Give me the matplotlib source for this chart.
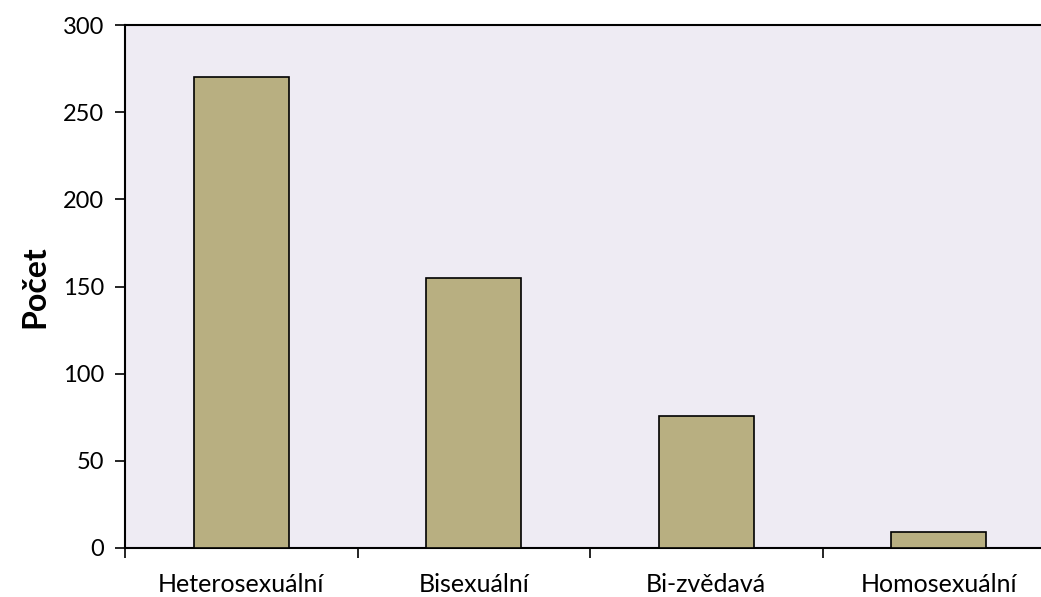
import matplotlib; matplotlib.use("Agg")
import matplotlib.pyplot as plt
import numpy as np

categories = ["Heterosexuální", "Bisexuální", "Bi-zvědavá", "Homosexuální"]
counts = [270, 155, 76, 9]
yticks = [0, 50, 100, 150, 200, 250, 300]

plt.rcParams["font.family"] = ["Lato", "DejaVu Sans"]

fig = plt.figure(figsize=(10.41, 5.97), dpi=100)
ax = fig.add_axes([0.1201, 0.0821, 0.8934, 0.876])
ax.set_facecolor("#EEEBF3")

x = np.arange(len(categories)) + 0.5
ax.bar(x, counts, width=0.41, color="#B8AF81", edgecolor="black", lw=1.2, zorder=3)

ax.set_xlim(0, len(categories))
ax.set_ylim(0, 300)
ax.set_yticks(yticks)
ax.set_yticklabels([str(t) for t in yticks], fontsize=17)
ax.set_xticks(np.arange(len(categories) + 1))
ax.set_xticklabels([])
ax.set_xticks(x, minor=True)
ax.set_xticklabels(categories, minor=True, fontsize=18)
ax.tick_params(axis="x", which="minor", length=0, pad=18)
ax.tick_params(axis="both", which="major", length=7, width=1.2, direction="out")
ax.tick_params(axis="y", pad=8)
for s in ("left", "bottom", "top"):
    ax.spines[s].set_linewidth(1.5)
ax.spines["right"].set_visible(False)
ax.set_ylabel("Počet", fontsize=23, fontweight="bold", labelpad=10)

fig.savefig("out.png", dpi=100)
